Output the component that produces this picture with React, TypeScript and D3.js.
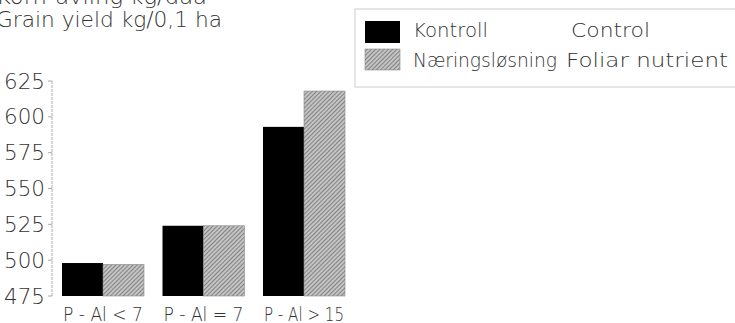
import React from "react";
import * as d3 from "d3";

const categories = ["P - Al < 7", "P - Al = 7", "P - Al > 15"];
const seriesKeys = ["kontroll", "naering"];
const seriesNo = ["Kontroll", "Næringsløsning"];
const seriesEn = ["Control", "Foliar nutrient"];
const kontroll = [498, 524, 593];
const naering = [497, 524, 618];
const yTicks = [475, 500, 525, 550, 575, 600, 625];
const titleLines = ["Korn-avling kg/daa", "Grain yield kg/0,1 ha"];

const W = 735;
const H = 323;
const FONT = "'DejaVu Sans', 'Liberation Sans', sans-serif";
const TXT = "#333";
const FW = 200;

export default function App() {
  const y = d3.scaleLinear().domain([475, 625]).range([296, 81]);
  const x0 = d3.scaleBand<string>().domain(categories).range([62, 345]).paddingInner(0.184).paddingOuter(0);
  const x1 = d3.scaleBand<string>().domain(seriesKeys).range([0, x0.bandwidth()]).padding(0);
  const values: Record<string, number[]> = { kontroll, naering };
  const fills: Record<string, string> = { kontroll: "#000", naering: "url(#hatch)" };

  return (
    <svg width={W} height={H} style={{ position: "absolute", left: 0, top: 0, background: "#fff" }}>
      <defs>
        <pattern id="hatch" patternUnits="userSpaceOnUse" width="3" height="3" patternTransform="rotate(45)">
          <rect width="3" height="3" fill="#c4c4c4" />
          <line x1="0" y1="0" x2="0" y2="3" stroke="#555" strokeWidth="1.2" />
        </pattern>
      </defs>

      {/* title */}
      {titleLines.map((t, i) => (
        <text key={t} x={-4} y={4 + i * 23} fontFamily={FONT} fontWeight={FW} fontSize={21} fill={TXT}
          textLength={i === 0 ? 211 : 226} lengthAdjust="spacingAndGlyphs">{t}</text>
      ))}

      {/* y axis */}
      <line x1={52} x2={52} y1={y(625)} y2={y(475)} stroke="#aaa" strokeWidth={1} strokeDasharray="3,1" />
      {yTicks.map((t) => (
        <g key={t}>
          <line x1={48} x2={52} y1={y(t)} y2={y(t)} stroke="#aaa" strokeWidth={1} />
          <text x={45} y={y(t)} textAnchor="end" dominantBaseline="central" fontFamily={FONT} fontWeight={FW}
            fontSize={22} fill={TXT} textLength={41} lengthAdjust="spacingAndGlyphs">{t}</text>
        </g>
      ))}

      {/* bars */}
      {categories.map((c, ci) => (
        <g key={c} transform={`translate(${x0(c)},0)`}>
          {seriesKeys.map((k) => (
            <rect key={k} x={x1(k)} y={y(values[k][ci])} width={x1.bandwidth()}
              height={y(475) - y(values[k][ci])} fill={fills[k]}
              stroke={k === "naering" ? "#888" : "none"} strokeWidth={0.6} />
          ))}
          <text x={(x0.bandwidth()) / 2} y={321} textAnchor="middle" fontFamily={FONT} fontWeight={FW}
            fontSize={20} fill={TXT} textLength={80} lengthAdjust="spacingAndGlyphs">{c}</text>
        </g>
      ))}

      {/* legend */}
      <rect x={355} y={9} width={400} height={78} fill="none" stroke="#ccc" strokeWidth={1} />
      {seriesKeys.map((k, i) => (
        <g key={k}>
          <rect x={365} y={i === 0 ? 21 : 49} width={35} height={i === 0 ? 22 : 21} fill={fills[k]}
            stroke={k === "naering" ? "#888" : "none"} strokeWidth={0.6} />
          <text x={413} y={37 + i * 30} fontFamily={FONT} fontWeight={FW} fontSize={20} fill={TXT}
            textLength={i === 0 ? 75 : 144} lengthAdjust="spacingAndGlyphs">{seriesNo[i]}</text>
          <text x={i === 0 ? 571 : 566} y={37 + i * 30} fontFamily={FONT} fontWeight={FW} fontSize={20} fill={TXT}
            textLength={i === 0 ? 79 : 162} lengthAdjust="spacingAndGlyphs">{seriesEn[i]}</text>
        </g>
      ))}
    </svg>
  );
}
